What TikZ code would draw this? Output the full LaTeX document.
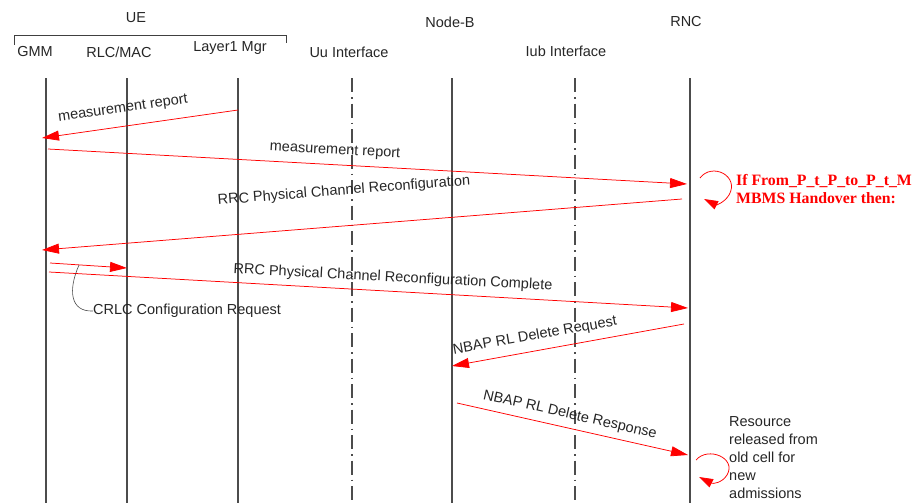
\documentclass[tikz,border=0pt]{standalone}
\usepackage{fontspec}
\setmainfont{Liberation Sans}
\newfontfamily\redserif{Liberation Serif}
\usetikzlibrary{arrows.meta}
\begin{document}
\begin{tikzpicture}[x=1pt,y=-1pt,
  lbl/.style={font=\fontsize{14.5}{17}\selectfont, text=black!85, inner sep=0pt},
  life/.style={draw=black!70, line width=1.1pt},
  iface/.style={draw=black!70, line width=1.1pt, dash pattern=on 14pt off 5pt on 1.5pt off 5pt},
  msg/.style={draw=red, line width=0.75pt, -{Triangle[length=17pt,width=10pt]}},
  loopmsg/.style={draw=red, line width=0.75pt, -{Triangle[length=14pt,width=9pt]}},
  note/.style={draw=black!70, line width=0.6pt},
  redtxt/.style={font=\redserif\bfseries\fontsize{15.8}{18}\selectfont, text=red, inner sep=0pt, align=left},
]
\useasboundingbox (0,0) rectangle (917,503);

% header
\node[lbl] (ue) at (136,18) {UE};
\node[lbl] (nodeb) at (450,22) {Node-B};
\node[lbl] (rnc) at (686,22) {RNC};
\coordinate (brL) at (14,45);
\coordinate (brL2) at (14,36);
\coordinate (brR2) at (286,36);
\coordinate (brR) at (286,43);
\draw[draw=black!75, line width=1pt] (brL) -- (brL2) -- (brR2) -- (brR);
\node[lbl] (gmm) at (35,52) {GMM};
\node[lbl] (rlcmac) at (119,52) {RLC/MAC};
\node[lbl] (l1) at (230,48) {Layer1 Mgr};
\node[lbl] (uu) at (349,52) {Uu Interface};
\node[lbl] (iub) at (566,51) {Iub Interface};

% lifelines
\foreach \n/\x in {gmm/46, rlc/127, lay/238, nb/452, rn/690} {
  \coordinate (\n-t) at (\x,78);
  \coordinate (\n-b) at (\x,503);
  \draw[life] (\n-t) -- (\n-b);
}
\foreach \n/\x in {uuif/352, iubif/575} {
  \coordinate (\n-t) at (\x,78);
  \coordinate (\n-b) at (\x,503);
  \draw[iface] (\n-t) -- (\n-b);
}

% message 1
\coordinate (m1a) at (238,110);
\coordinate (m1b) at (42,138);
\draw[msg] (m1a) -- (m1b);
\node[lbl, rotate=8.1] (t1) at (123,109) {measurement report};

% message 2
\coordinate (m2a) at (48,149);
\coordinate (m2b) at (687,184);
\draw[msg] (m2a) -- (m2b);
\node[lbl, rotate=-3.1] (t2) at (335,151) {measurement report};

% self loop 1
\coordinate (s1a) at (700,178);
\coordinate (s1b) at (704,199);
\draw[loopmsg] (s1a) .. controls (712,162) and (740,176) .. (729,195)
  .. controls (724,203) and (716,205) .. (s1b);
\node[redtxt, anchor=west] (cond) at (736,189) {If From\_P\_t\_P\_to\_P\_t\_M\\MBMS Handover then:};

% message 4
\coordinate (m4a) at (682,199);
\coordinate (m4b) at (42,250);
\draw[msg] (m4a) -- (m4b);
\node[lbl, rotate=4.5] (t4) at (344,191) {RRC Physical Channel Reconfiguration};

% message 5
\coordinate (m5a) at (50,263);
\coordinate (m5b) at (127,268);
\draw[msg] (m5a) -- (m5b);

% message 6
\coordinate (m6a) at (49,272);
\coordinate (m6b) at (688,308);
\draw[msg] (m6a) -- (m6b);
\node[lbl, rotate=-3.0] (t6) at (393,278) {RRC Physical Channel Reconfiguration Complete};

% CRLC annotation
\node[lbl, anchor=west] (crlc) at (93,311) {CRLC Configuration Request};
\coordinate (c1) at (79,265);
\draw[note] (c1) .. controls (68,290) and (70,312) .. (crlc.west);

% message 8
\coordinate (m8a) at (684,324);
\coordinate (m8b) at (452,366);
\draw[msg] (m8a) -- (m8b);
\node[lbl, rotate=10] (t8) at (535,336) {NBAP RL Delete Request};

% message 9
\coordinate (m9a) at (457,403);
\coordinate (m9b) at (688,455);
\draw[msg] (m9a) -- (m9b);
\node[lbl, rotate=-12.8] (t9) at (570,415) {NBAP RL Delete Response};

% self loop 2
\coordinate (s2a) at (696,460);
\coordinate (s2b) at (699,477);
\draw[loopmsg] (s2a) .. controls (708,446) and (737,458) .. (727,475)
  .. controls (722,483) and (713,484) .. (s2b);
\node[lbl, anchor=north west, align=left, font=\fontsize{14.5}{18}\selectfont] (res) at (729,416)
  {Resource\\released from\\old cell for\\new\\admissions};
\end{tikzpicture}
\end{document}
